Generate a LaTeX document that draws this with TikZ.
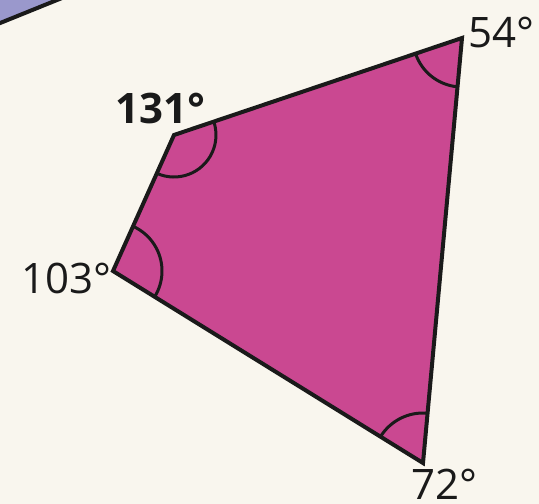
\documentclass[tikz,border=0pt]{standalone}
\usepackage{fontspec}
\setmainfont{Open Sans}
\usetikzlibrary{angles}
\definecolor{bgcream}{HTML}{F9F6EE}
\definecolor{quadfill}{HTML}{CA4891}
\definecolor{lav}{HTML}{9A98CC}
\definecolor{ink}{HTML}{1A1A1A}
\tikzset{
  edge/.style={draw=ink, line width=4pt, line join=miter},
  arcmark/.style={draw=ink, line width=3pt},
  lbl/.style={inner sep=0pt, anchor=base west, text=ink, font=\fontsize{42}{42}\selectfont},
}
\begin{document}
\begin{tikzpicture}[x=1pt,y=1pt]
\fill[bgcream] (0,0) rectangle (539,-504);
\useasboundingbox (0,0) rectangle (539,-504);
% corner shape
\begin{scope}
\clip (0,0) rectangle (539,-504);
\fill[lav] (-6,-25.5) -- (62,2) -- (-6,2) -- cycle;
\draw[ink, line width=4pt] (-6,-25.5) -- (62,2);
\end{scope}
% quadrilateral
\coordinate (A) at (174,-135);
\coordinate (B) at (462,-38);
\coordinate (C) at (423,-463);
\coordinate (D) at (113,-271);
\fill[quadfill] (A) -- (B) -- (C) -- (D) -- cycle;
\pic[arcmark, angle radius=42pt] {angle = D--A--B};
\pic[arcmark, angle radius=49pt] {angle = A--B--C};
\pic[arcmark, angle radius=50pt] {angle = B--C--D};
\pic[arcmark, angle radius=49pt] {angle = C--D--A};
\draw[edge] (A) -- (B) -- (C) -- (D) -- cycle;
% labels
\node[lbl, font=\fontsize{42}{42}\selectfont\bfseries] (la) at (115,-123) {131°};
\node[lbl] (lb) at (468,-47) {54°};
\node[lbl] (lc) at (411,-499) {72°};
\node[lbl] (ld) at (21,-293) {103°};
\end{tikzpicture}
\end{document}
